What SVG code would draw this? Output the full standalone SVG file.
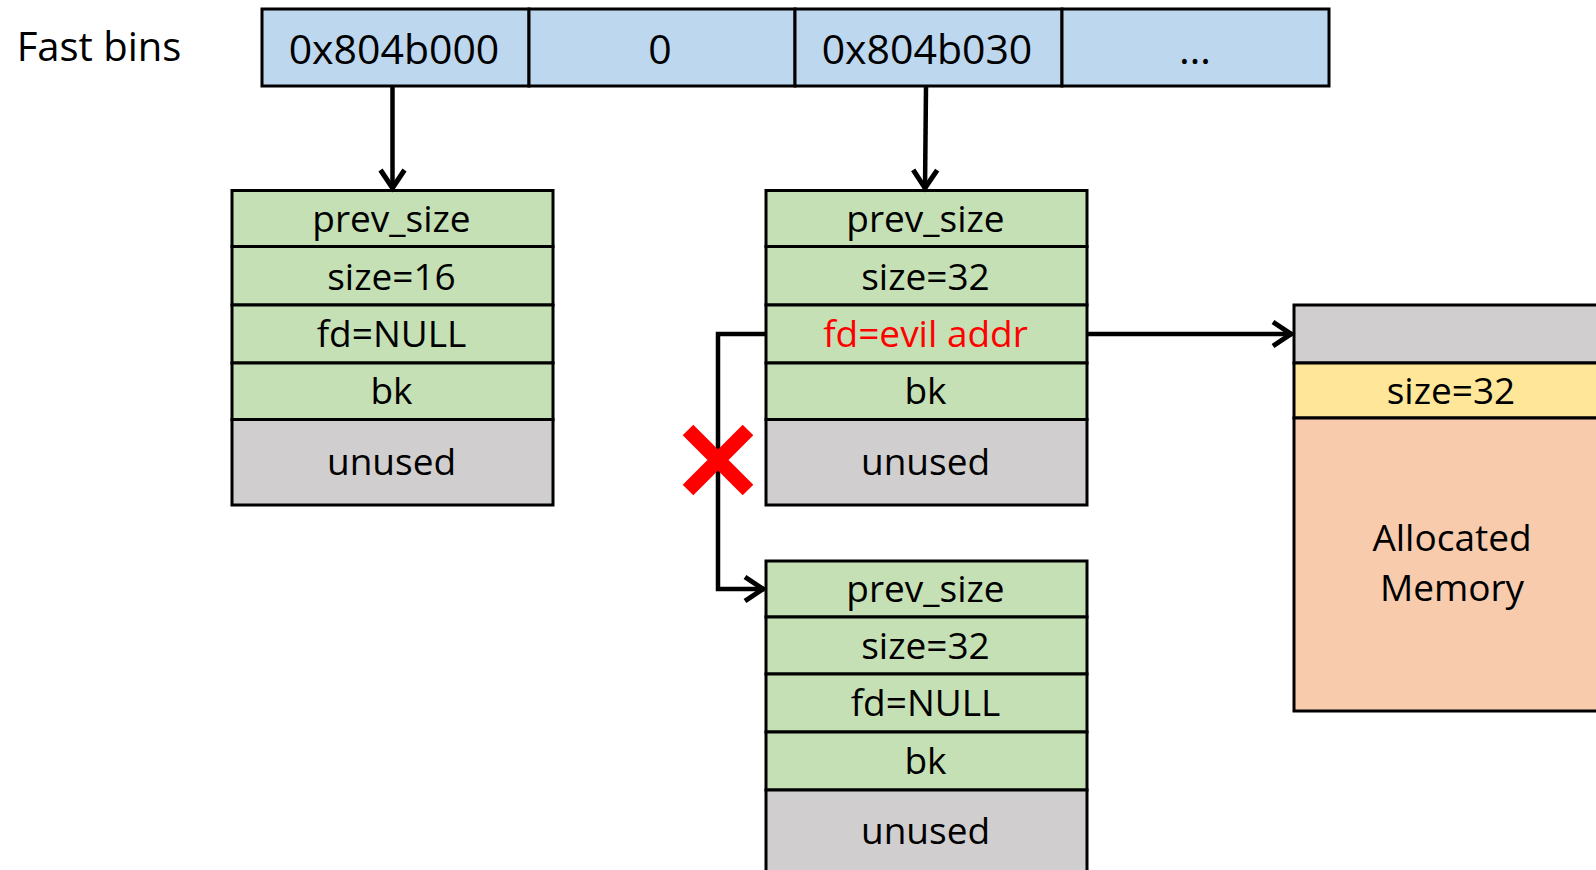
<svg xmlns="http://www.w3.org/2000/svg" width="1596" height="870" viewBox="0 0 1596 870">
<style>
text{font-family:"Open Sans","Noto Sans","Liberation Sans",sans-serif;fill:#000;text-anchor:middle}
.t{font-size:37px}
.tb{font-size:41px}
.cell{stroke:#000;stroke-width:3}
.blue{fill:#BDD7EE}
.green{fill:#C5E0B4}
.gray{fill:#D0CECE}
.yellow{fill:#FFE699}
.salmon{fill:#F8CBAD}
.conn{fill:none;stroke:#000;stroke-width:4.5}
</style>
<defs>
<marker id="arr" markerUnits="userSpaceOnUse" markerWidth="28" markerHeight="30" refX="22" refY="14" orient="auto" overflow="visible">
<path d="M3,2 L21,14 L3,26" fill="none" stroke="#000" stroke-width="5"/>
</marker>
</defs>
<rect width="1596" height="870" fill="#fff"/>

<g id="label-fastbins">
<text x="99" y="61" style="font-size:40px">Fast bins</text>
</g>

<g id="fastbins-array">
<rect class="cell blue" x="262" y="9" width="267" height="77"/>
<rect class="cell blue" x="529" y="9" width="266" height="77"/>
<rect class="cell blue" x="795" y="9" width="267" height="77"/>
<rect class="cell blue" x="1062" y="9" width="267" height="77"/>
<text class="tb" x="394" y="64">0x804b000</text>
<text class="tb" x="660" y="64">0</text>
<text class="tb" x="927" y="64">0x804b030</text>
<text class="tb" x="1195" y="64">…</text>
</g>

<g id="chunk-16">
<rect class="cell green" x="232" y="190.5" width="321" height="56"/>
<rect class="cell green" x="232" y="246.5" width="321" height="58.5"/>
<rect class="cell green" x="232" y="305" width="321" height="58"/>
<rect class="cell green" x="232" y="363" width="321" height="56.5"/>
<rect class="cell gray" x="232" y="419.5" width="321" height="85.5"/>
<text class="t" x="391.5" y="232">prev_size</text>
<text class="t" x="391.5" y="289.5">size=16</text>
<text class="t" x="391.5" y="347">fd=NULL</text>
<text class="t" x="391.5" y="404">bk</text>
<text class="t" x="391.5" y="475">unused</text>
</g>

<g id="chunk-32a">
<rect class="cell green" x="766" y="190.5" width="321" height="56"/>
<rect class="cell green" x="766" y="246.5" width="321" height="58.5"/>
<rect class="cell green" x="766" y="305" width="321" height="58"/>
<rect class="cell green" x="766" y="363" width="321" height="56.5"/>
<rect class="cell gray" x="766" y="419.5" width="321" height="85.5"/>
<text class="t" x="925.5" y="232">prev_size</text>
<text class="t" x="925.5" y="289.5">size=32</text>
<text class="t" x="925.5" y="347" style="fill:#FF0000">fd=evil addr</text>
<text class="t" x="925.5" y="404">bk</text>
<text class="t" x="925.5" y="475">unused</text>
</g>

<g id="chunk-32b">
<rect class="cell green" x="766" y="561" width="321" height="56"/>
<rect class="cell green" x="766" y="617" width="321" height="57"/>
<rect class="cell green" x="766" y="674" width="321" height="58"/>
<rect class="cell green" x="766" y="732" width="321" height="58"/>
<rect class="cell gray" x="766" y="790" width="321" height="95"/>
<text class="t" x="925.5" y="602">prev_size</text>
<text class="t" x="925.5" y="659">size=32</text>
<text class="t" x="925.5" y="716">fd=NULL</text>
<text class="t" x="925.5" y="774">bk</text>
<text class="t" x="925.5" y="844">unused</text>
</g>

<g id="allocated">
<rect class="cell gray" x="1294" y="305" width="330" height="58"/>
<rect class="cell yellow" x="1294" y="363" width="330" height="55"/>
<rect class="cell salmon" x="1294" y="418" width="330" height="293"/>
<text class="t" x="1451" y="404">size=32</text>
<text class="t" x="1452" y="551">Allocated</text>
<text class="t" x="1452" y="601">Memory</text>
</g>

<g id="connectors">
<line class="conn" x1="392.5" y1="87" x2="392.5" y2="189" marker-end="url(#arr)"/>
<line class="conn" x1="926" y1="87" x2="925" y2="189" marker-end="url(#arr)"/>
<line class="conn" x1="1087" y1="334" x2="1292" y2="334" marker-end="url(#arr)"/>
<polyline class="conn" points="766,334 718,334 718,589 764,589" marker-end="url(#arr)"/>
</g>

<g id="cut-mark">
<path d="M688,430 L748,490 M748,430 L688,490" stroke="#FF0000" stroke-width="15" fill="none"/>
</g>
</svg>
